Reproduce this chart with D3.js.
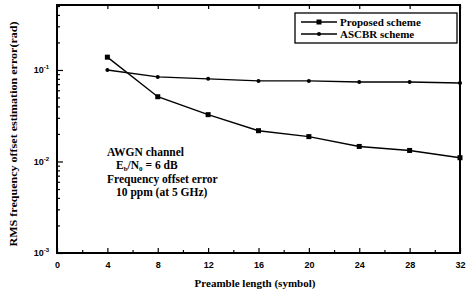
<!DOCTYPE html>
<html>
<head>
<meta charset="utf-8">
<script src="https://cdn.jsdelivr.net/npm/d3@7"></script>
<style>
  body { margin: 0; background: #fff; }
  svg { display: block; }
  .tick text { font-family: "Liberation Sans", Arial, sans-serif; font-weight: bold; font-size: 9px; }
  .serif { font-family: "Liberation Serif", "Times New Roman", serif; }
</style>
</head>
<body>
<script>
// data
const preamble = [4, 8, 12, 16, 20, 24, 28, 32];
const proposed = [0.138, 0.051, 0.0325, 0.0217, 0.0187, 0.0146, 0.0132, 0.011];
const ascbr = [0.1, 0.084, 0.08, 0.076, 0.076, 0.074, 0.074, 0.072];
const xTicks = [0, 4, 8, 12, 16, 20, 24, 28, 32];
const yTicks = [1e-3, 1e-2, 1e-1];
const yTickLabels = ['-3', '-2', '-1'];

const W = 470, H = 294;
const margin = {left: 57, right: 10, top: 5, bottom: 41};
const width = W - margin.left - margin.right;
const height = H - margin.top - margin.bottom;

const svg = d3.select('body').append('svg').attr('width', W).attr('height', H);
const g = svg.append('g').attr('transform', `translate(${margin.left},${margin.top})`);

const x = d3.scaleLinear().domain([0, 32]).range([0, width]);
const y = d3.scaleLog().domain([1e-3, Math.pow(10, -0.29)]).range([height, 0]);

// minor log ticks
const minor = [];
[1e-3, 1e-2, 1e-1].forEach(d => { for (let k = 2; k <= 9; k++) if (d * k <= y.domain()[1]) minor.push(d * k); });

// X AXIS
g.append('g').attr('class', 'x axis')
  .attr('transform', `translate(0,${height})`)
  .call(d3.axisBottom(x).tickValues(xTicks).tickSizeInner(-5).tickSizeOuter(0).tickPadding(9))
  .call(a => a.select('.domain').remove());
g.append('g')
  .attr('transform', `translate(0,${height})`)
  .call(d3.axisBottom(x).tickValues(d3.range(2, 32, 4)).tickSizeInner(-3).tickSizeOuter(0).tickFormat(''))
  .call(a => a.select('.domain').remove());
g.append('g')
  .call(d3.axisTop(x).tickValues(xTicks).tickSizeInner(-4).tickSizeOuter(0).tickFormat(''))
  .call(a => a.select('.domain').remove());

// Y AXIS
const yAxis = g.append('g').attr('class', 'y axis')
  .call(d3.axisLeft(y).tickValues(yTicks).tickSizeInner(-6).tickSizeOuter(0).tickPadding(10).tickFormat(''))
  .call(a => a.select('.domain').remove());
yAxis.selectAll('.tick').append('text')
  .attr('x', -8).attr('dy', '0.32em').attr('fill', '#000').attr('text-anchor', 'end')
  .html((d, i) => `10<tspan dy="-4" font-size="6px">${yTickLabels[i]}</tspan>`);
g.append('g')
  .call(d3.axisLeft(y).tickValues(minor).tickSizeInner(-3).tickSizeOuter(0).tickFormat(''))
  .call(a => a.select('.domain').remove());

g.selectAll('.tick line').attr('stroke', '#000').attr('stroke-width', 1.2);

// frame
g.append('rect').attr('width', width).attr('height', height)
  .attr('fill', 'none').attr('stroke', '#000').attr('stroke-width', 2);

// LINES
const line = d3.line().x(d => x(d[0])).y(d => y(d[1]));
const series = [
  {name: 'Proposed scheme', values: proposed, marker: 'square'},
  {name: 'ASCBR scheme', values: ascbr, marker: 'dot'}
];
series.forEach(s => {
  const pts = preamble.map((p, i) => [p, s.values[i]]);
  g.append('path').datum(pts).attr('d', line)
    .attr('fill', 'none').attr('stroke', '#000').attr('stroke-width', 1.4);
  if (s.marker === 'square') {
    g.selectAll(null).data(pts).enter().append('rect')
      .attr('x', d => x(d[0]) - 2.5).attr('y', d => y(d[1]) - 2.5)
      .attr('width', 5).attr('height', 5).attr('fill', '#000');
  } else {
    g.selectAll(null).data(pts).enter().append('circle')
      .attr('cx', d => x(d[0])).attr('cy', d => y(d[1])).attr('r', 2).attr('fill', '#000');
  }
});

// LEGEND
const lg = svg.append('g').attr('transform', 'translate(295,13)');
lg.append('rect').attr('width', 162).attr('height', 30)
  .attr('fill', '#fff').attr('stroke', '#000').attr('stroke-width', 1.3);
series.forEach((s, i) => {
  const yy = 9 + i * 12;
  lg.append('line').attr('x1', 6).attr('x2', 42).attr('y1', yy).attr('y2', yy)
    .attr('stroke', '#000').attr('stroke-width', 1.3);
  if (s.marker === 'square') lg.append('rect').attr('x', 21.5).attr('y', yy - 2.5).attr('width', 5).attr('height', 5);
  else lg.append('circle').attr('cx', 24).attr('cy', yy).attr('r', 2);
  lg.append('text').attr('class', 'serif').attr('x', 45).attr('y', yy).attr('dy', '0.35em')
    .attr('font-size', '11px').attr('font-weight', 'bold').text(s.name);
});

// ANNOTATION
const ann = svg.append('g').attr('class', 'serif').attr('font-size', '11.5px').attr('font-weight', 'bold');
ann.append('text').attr('x', 107).attr('y', 156).text('AWGN channel');
ann.append('text').attr('x', 116).attr('y', 169)
  .html('E<tspan dy="2" font-size="7px">b</tspan><tspan dy="-2">/N</tspan><tspan dy="2" font-size="7px">0</tspan><tspan dy="-2"> = 6 dB</tspan>');
ann.append('text').attr('x', 107).attr('y', 183).text('Frequency offset error');
ann.append('text').attr('x', 116).attr('y', 196).text('10 ppm (at 5 GHz)');

// AXIS TITLES
svg.append('text').attr('class', 'serif').attr('font-size', '11px').attr('font-weight', 'bold')
  .attr('text-anchor', 'middle').attr('x', 255).attr('y', 287)
  .text('Preamble length (symbol)');
svg.append('text').attr('class', 'serif').attr('font-size', '10.5px').attr('font-weight', 'bold')
  .attr('text-anchor', 'middle').attr('textLength', 225).attr('lengthAdjust', 'spacingAndGlyphs')
  .attr('transform', 'translate(17,134) rotate(-90)')
  .text('RMS frequency offset estimation error(rad)');
</script>
</body>
</html>
